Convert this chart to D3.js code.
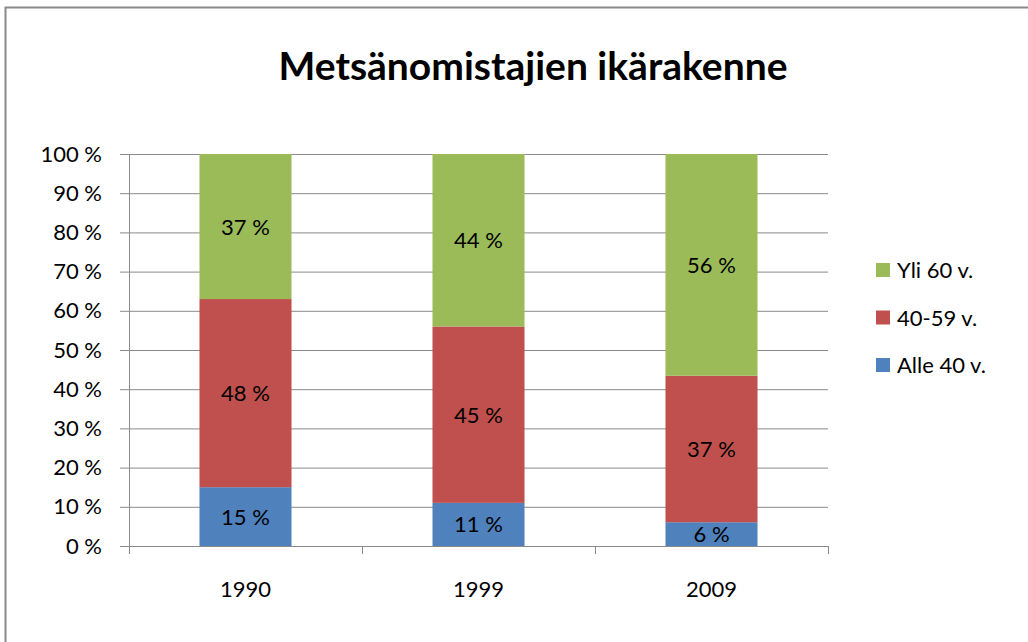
<!DOCTYPE html>
<html>
<head>
<meta charset="utf-8">
<script src="https://cdn.jsdelivr.net/npm/d3@7"></script>
<style>
  body { margin: 0; background: #fff; }
  text { font-family: Lato, "Open Sans", sans-serif; fill: #000; }
</style>
</head>
<body>
<div id="chart"></div>
<script>
const years = ['1990', '1999', '2009'];
const seriesNames = ['Alle 40 v.', '40-59 v.', 'Yli 60 v.'];
const alle40 = [15, 11, 6];
const v40to59 = [48, 45, 37];
const yli60 = [37, 44, 56];
const colors = ['#4F81BD', '#C0504D', '#9BBB59'];
const yTicks = [0, 0.1, 0.2, 0.3, 0.4, 0.5, 0.6, 0.7, 0.8, 0.9, 1];

const W = 1028, H = 642;
const margin = {top: 154, right: 200, bottom: 96, left: 129};
const width = W - margin.left - margin.right;
const height = H - margin.top - margin.bottom;

const rows = years.map((y, i) => ({
  year: y, 'Alle 40 v.': alle40[i], '40-59 v.': v40to59[i], 'Yli 60 v.': yli60[i]
}));

const root = d3.select('#chart')
  .append('svg')
    .attr('width', W)
    .attr('height', H);

// outer frame
root.append('rect')
  .attr('x', 5.5).attr('y', 7.5)
  .attr('width', W + 10).attr('height', H + 10)
  .attr('fill', 'none')
  .attr('stroke', '#8a8a8a')
  .attr('stroke-width', 2);

root.append('text')
  .attr('x', 533).attr('y', 80)
  .attr('text-anchor', 'middle')
  .style('font-size', '39px')
  .style('font-weight', 'bold')
  .text('Metsänomistajien ikärakenne');

const svg = root.append('g')
  .attr('transform', 'translate(' + margin.left + ',' + margin.top + ')');

const x = d3.scaleBand()
  .domain(years)
  .range([0, width])
  .paddingInner(0.605)
  .paddingOuter(0.3025);

const y = d3.scaleLinear()
  .domain([0, 1])
  .range([height, 0]);

// gridlines + y axis
svg.append('g')
  .call(d3.axisLeft(y)
    .tickValues(yTicks)
    .tickSize(9)
    .tickFormat(d => Math.round(d * 100) + ' %'))
  .call(g => g.select('.domain').attr('stroke', '#8a8a8a'))
  .call(g => g.selectAll('.tick line').attr('stroke', '#8a8a8a'))
  .call(g => g.selectAll('.tick text')
    .attr('x', -27)
    .style('font-size', '22px')
    .attr('fill', '#000'));

svg.append('g')
  .selectAll('line')
  .data(yTicks.slice(1))
  .join('line')
    .attr('x1', 0).attr('x2', width)
    .attr('y1', d => y(d) + 0.5).attr('y2', d => y(d) + 0.5)
    .attr('stroke', '#8a8a8a');

const stack = d3.stack()
  .keys(seriesNames)
  .offset(d3.stackOffsetExpand);
const layers = stack(rows);

const layerG = svg.selectAll('.layer')
  .data(layers)
  .join('g')
    .attr('class', 'layer')
    .attr('fill', (d, i) => colors[i]);

layerG.selectAll('rect')
  .data(d => d)
  .join('rect')
    .attr('x', d => x(d.data.year))
    .attr('y', d => y(d[1]))
    .attr('width', x.bandwidth())
    .attr('height', d => y(d[0]) - y(d[1]));

layerG.selectAll('text')
  .data((d, i) => d.map(p => ({p, key: d.key})))
  .join('text')
    .attr('x', d => x(d.p.data.year) + x.bandwidth() / 2)
    .attr('y', d => (y(d.p[0]) + y(d.p[1])) / 2 + 8)
    .attr('text-anchor', 'middle')
    .style('font-size', '22px')
    .text(d => d.p.data[d.key] + ' %');

// x axis
const step = width / years.length;
svg.append('g')
  .attr('transform', 'translate(0,' + height + ')')
  .call(d3.axisBottom(x).tickSize(0).tickPadding(35))
  .call(g => g.select('.domain').attr('stroke', '#8a8a8a'))
  .call(g => g.selectAll('.tick text').style('font-size', '22px').attr('fill', '#000'));

svg.append('g')
  .selectAll('line')
  .data(d3.range(years.length + 1))
  .join('line')
    .attr('x1', i => Math.round(i * step) + 0.5)
    .attr('x2', i => Math.round(i * step) + 0.5)
    .attr('y1', height).attr('y2', height + 8)
    .attr('stroke', '#8a8a8a');

// legend
const legend = root.append('g')
  .attr('transform', 'translate(876,0)');
const legendItems = seriesNames.slice().reverse();
const li = legend.selectAll('g')
  .data(legendItems)
  .join('g')
    .attr('transform', (d, i) => 'translate(0,' + (270 + i * 47.5) + ')');
li.append('rect')
  .attr('x', 0).attr('y', -7)
  .attr('width', 14).attr('height', 14)
  .attr('fill', d => colors[seriesNames.indexOf(d)]);
li.append('text')
  .attr('x', 21).attr('y', 8)
  .style('font-size', '22px')
  .text(d => d);
</script>
</body>
</html>
